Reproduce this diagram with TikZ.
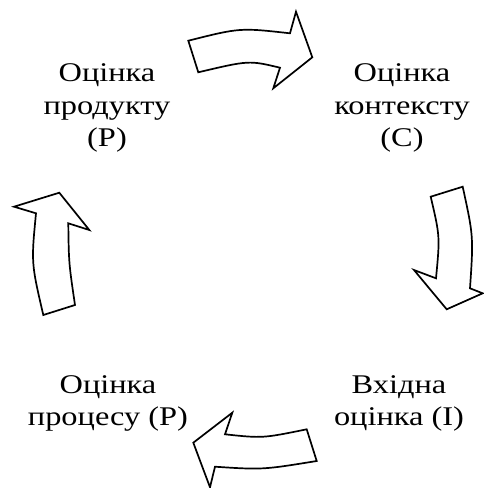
\documentclass[tikz,border=0pt]{standalone}
\usepackage{fontspec}
\setmainfont[FakeStretch=1.2]{Liberation Serif}
\begin{document}
\begin{tikzpicture}[x=1pt,y=-1pt,
  lbl/.style={align=center,font=\fontsize{27}{32.5}\selectfont,inner sep=0pt,anchor=base},
  bigarrow/.style={draw=black,line width=1.7pt,fill=white,line join=miter}]
\useasboundingbox (0,0) rectangle (483,488);
% labels (anchored at the baseline of the last line)
\node[lbl] (prod) at (107,146.7) {Оцінка\\продукту\\(P)};
\node[lbl] (ctx) at (402,146.7) {Оцінка\\контексту\\(C)};
\node[lbl] (proc) at (108,425.8) {Оцінка\\процесу (P)};
\node[lbl] (inp) at (399,425.8) {Вхідна\\оцінка (I)};
% top arrow
\draw[bigarrow] (188.3,40.7) .. controls (240,27.7) .. (290,33.3) -- (296,11.7) -- (312.3,57.3) -- (273.3,88.3) -- (280,67.7) .. controls (249,60.3) .. (198.3,72.3) -- cycle;
% right arrow
\draw[bigarrow] (430.7,196.7) -- (462.7,186.7) .. controls (473.5,236.4) .. (470,288.3) -- (482.7,293.3) -- (446.7,309.3) -- (414,270) -- (436,278.3) .. controls (440,236.4) .. cycle;
% bottom arrow
\draw[bigarrow] (306.7,429.3) .. controls (262.5,438.3) .. (225,434.3) -- (232.3,412.7) -- (193.3,442.7) -- (210,487.3) -- (215,466.7) .. controls (262.5,469.8) .. (316.7,461) -- cycle;
% left arrow
\draw[bigarrow] (43.3,315) -- (75,305) .. controls (68.8,263) .. (68.3,223.3) -- (89.3,230) -- (59.3,192.7) -- (14,206.7) -- (36,213.3) .. controls (31.2,263) .. cycle;
\end{tikzpicture}
\end{document}
